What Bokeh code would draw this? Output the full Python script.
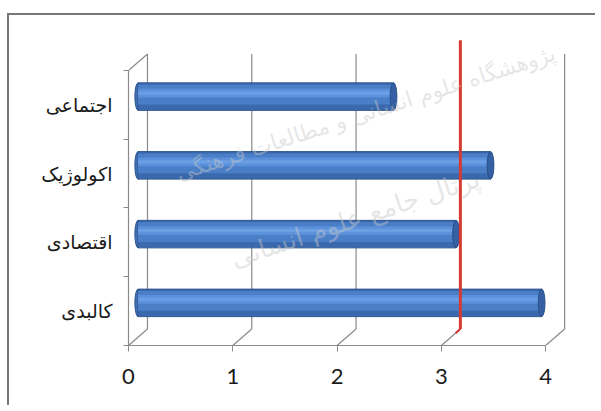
from bokeh.plotting import figure
from bokeh.models import ColumnDataSource, FixedTicker, Range1d, Label
from bokeh.embed import file_html
from bokeh.resources import INLINE

# ---- data ----
categories = ["اجتماعی", "اکولوژیک", "اقتصادی", "کالبدی"]   # top to bottom
values = [2.45, 3.38, 3.05, 3.87]
x_ticks = [0, 1, 2, 3, 4]
threshold = 3.0

# ---- 3D style constants ----
DX = 0.182      # depth offset (x units)
DY = 0.24       # depth offset (category units)
BAR_H = 0.40
n = len(categories)
centers = [n - 1 - i for i in range(n)]           # 3,2,1,0
bounds_y = [c - 0.5 for c in range(n + 1)]        # -0.5 .. 3.5
y_lo, y_hi = bounds_y[0], bounds_y[-1]

p = figure(width=588, height=392, output_backend="svg", toolbar_location=None,
           x_range=Range1d(0, 4.449), y_range=Range1d(y_lo, y_lo + 4.727),
           min_border_left=119, min_border_right=5, min_border_top=5, min_border_bottom=62)
p.margin = (13, 0, 0, 7)
p.styles = {"border-left": "2px solid #777777", "border-top": "2px solid #777777"}
p.outline_line_color = None
p.xgrid.visible = False
p.ygrid.visible = False
p.background_fill_color = "white"
p.border_fill_color = "white"

frame_col = "#8a8a8a"

# back wall gridlines
p.segment(x0=[t + DX for t in x_ticks], y0=[y_lo + DY] * len(x_ticks),
          x1=[t + DX for t in x_ticks], y1=[y_hi + DY] * len(x_ticks),
          line_color=frame_col, line_width=1.2)
# floor diagonals
p.segment(x0=x_ticks, y0=[y_lo] * len(x_ticks),
          x1=[t + DX for t in x_ticks], y1=[y_lo + DY] * len(x_ticks),
          line_color=frame_col, line_width=1.2)
# left wall top diagonal
p.segment(x0=[0], y0=[y_hi], x1=[DX], y1=[y_hi + DY], line_color=frame_col, line_width=1.2)

# ---- cylinders ----
yc = [c + DY / 2 for c in centers]
x0 = DX / 2
ends = [v + DX / 2 for v in values]
src = ColumnDataSource(dict(y=yc, right=ends, left=[x0] * n, cat=categories))

p.ellipse(x=[x0] * n, y=yc, width=0.06, height=BAR_H, fill_color="#3f70b6",
          line_color="#2e568f", line_width=1)
p.hbar(y="y", left="left", right="right", height=BAR_H, source=src,
       fill_color="#3b69ad", line_color="#2e568f", line_width=1)
p.hbar(y=[v + 0.03 for v in yc], left=[x0] * n, right=ends, height=BAR_H * 0.72,
       fill_color="#4a7fc8", line_color=None)
p.hbar(y=[v + 0.05 for v in yc], left=[x0] * n, right=ends, height=BAR_H * 0.32,
       fill_color="#5b91da", line_color=None)
p.hbar(y=[v + 0.05 for v in yc], left=[x0] * n, right=ends, height=BAR_H * 0.12,
       fill_color="#6a9fe4", line_color=None)
p.ellipse(x=ends, y=yc, width=0.065, height=BAR_H, fill_color="#3560a3",
          line_color="#2a4f88", line_width=1)

# ---- threshold line (on back wall) ----
p.segment(x0=[threshold + DX], y0=[y_lo + DY], x1=[threshold + DX], y1=[y_hi + DY + 0.2],
          line_color="#d63a32", line_width=3)
p.segment(x0=[threshold + DX * 0.75], y0=[y_lo + DY * 0.75], x1=[threshold + DX], y1=[y_lo + DY],
          line_color="#d63a32", line_width=2)

# ---- axes ----
xa = p.xaxis[0]
xa.ticker = FixedTicker(ticks=x_ticks)
xa.bounds = (x_ticks[0], x_ticks[-1])
xa.axis_line_color = frame_col
xa.axis_line_width = 1.2
xa.major_tick_line_color = frame_col
xa.major_tick_out = 6
xa.major_tick_in = 0
xa.minor_tick_line_color = None
xa.major_label_text_font = "Lato"
xa.major_label_text_font_size = "22px"
xa.major_label_text_color = "#1a1a1a"
xa.major_label_standoff = 17

ya = p.yaxis[0]
ya.ticker = FixedTicker(ticks=centers, minor_ticks=bounds_y)
ya.bounds = (y_lo, y_hi)
ya.axis_line_color = frame_col
ya.axis_line_width = 1.2
ya.major_tick_line_color = None
ya.minor_tick_line_color = frame_col
ya.minor_tick_out = 5
ya.minor_tick_in = 0
ya.major_label_overrides = {c: cat for c, cat in zip(centers, categories)}
ya.major_label_text_font = "DejaVu Sans"
ya.major_label_text_font_size = "19px"
ya.major_label_text_color = "#1a1a1a"
ya.major_label_standoff = 10

# ---- faint watermark (frame-relative screen units) ----
wm1 = Label(x=52, y=160, x_units="screen", y_units="screen",
            text="پژوهشگاه علوم انسانی و مطالعات فرهنگی", angle=0.31,
            text_font="DejaVu Sans", text_font_size="22px", text_color="#c8c8c8",
            text_alpha=0.45, level="overlay")
wm2 = Label(x=108, y=72, x_units="screen", y_units="screen",
            text="پرتال جامع علوم انسانی", angle=0.32,
            text_font="DejaVu Sans", text_font_size="26px", text_color="#c8c8c8",
            text_alpha=0.45, level="overlay")
p.add_layout(wm1)
p.add_layout(wm2)

open("out.html", "w").write(file_html(p, INLINE))
